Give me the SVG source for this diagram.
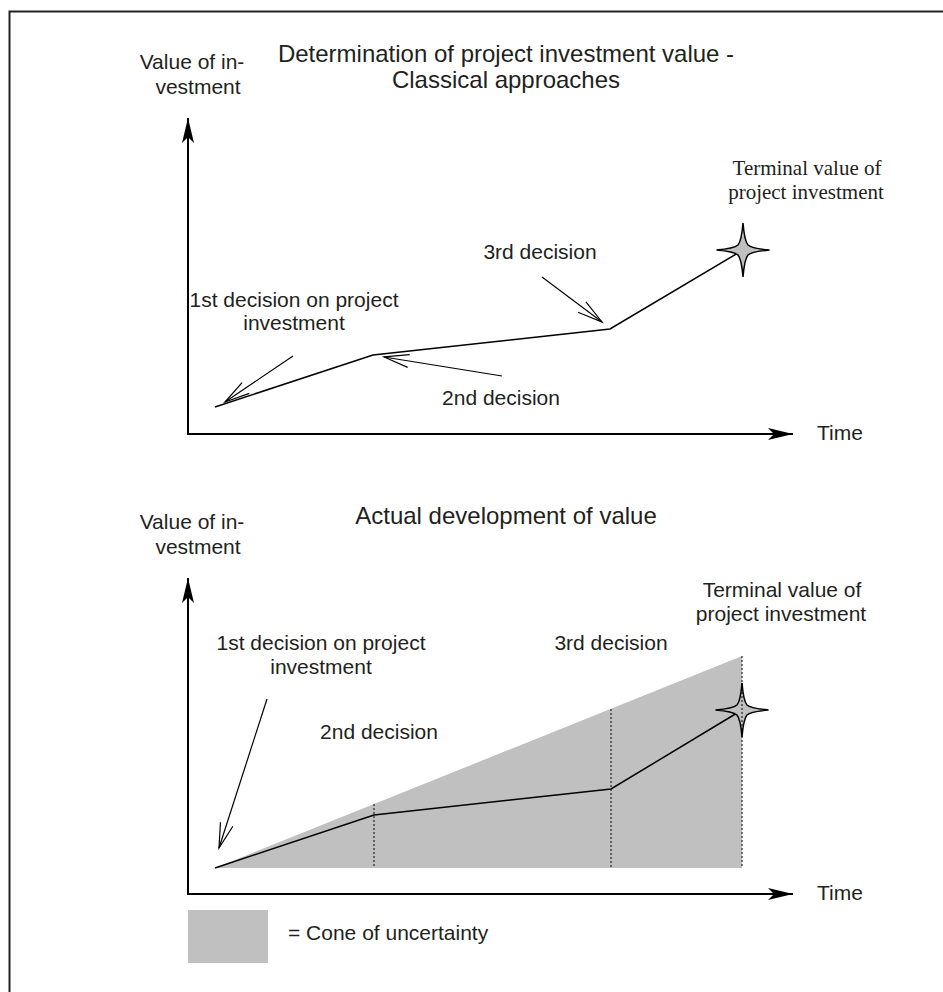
<svg xmlns="http://www.w3.org/2000/svg" width="943" height="992" viewBox="0 0 943 992">
  <style>
    .lbl { font-family: "Liberation Sans", Arial, sans-serif; font-size: 21px; fill: #231f20; }
    .ttl { font-family: "Liberation Sans", Arial, sans-serif; font-size: 24px; fill: #231f20; text-anchor: middle; }
    .ser { font-family: "Liberation Serif", "Times New Roman", serif; font-size: 21px; fill: #231f20; text-anchor: middle; }
    .mid { text-anchor: middle; }
    .axis { stroke: #000; stroke-width: 2; fill: none; marker-end: url(#axhead); }
    .val { stroke: #000; stroke-width: 1.5; fill: none; stroke-linejoin: miter; }
    .ptr { stroke: #000; stroke-width: 1.2; fill: none; marker-end: url(#openhead); }
    .dot { stroke: #000; stroke-width: 1; stroke-dasharray: 2 2; fill: none; }
    .star { fill: #c0c0c0; stroke: #000; stroke-width: 1.5; }
    .cone { fill: #c0c0c0; stroke: none; }
  </style>
  <defs>
    <marker id="axhead" markerUnits="userSpaceOnUse" viewBox="-26 -7 28 14" refX="0" refY="0" markerWidth="28" markerHeight="14" orient="auto" overflow="visible">
      <path d="M0,0 L-25,-6 L-19,0 L-25,6 Z" fill="#000"/>
    </marker>
    <marker id="openhead" markerUnits="userSpaceOnUse" viewBox="-27 -8 30 16" refX="0" refY="0" markerWidth="30" markerHeight="16" orient="auto" overflow="visible">
      <path d="M-25,-6.5 L0,0 L-25,6.5" fill="none" stroke="#000" stroke-width="1.2"/>
    </marker>
    <path id="starShape" d="M0,-27 Q1.5,-9 5,-5 Q9,-1.5 26.5,0 Q9,1.5 5,5 Q1.5,9 0,27 Q-1.5,9 -5,5 Q-9,1.5 -26.5,0 Q-9,-1.5 -5,-5 Q-1.5,-9 0,-27 Z"/>
  </defs>

  <rect width="943" height="992" fill="#fff"/>
  <rect id="frame" x="9.5" y="11.5" width="960" height="1000" fill="none" stroke="#222" stroke-width="2"/>

  <!-- Top chart -->
  <g id="top-title">
    <text class="ttl" x="506" y="62">Determination of project investment value -</text>
    <text class="ttl" x="506" y="88">Classical approaches</text>
  </g>
  <g id="top-yaxis-label">
    <text class="lbl mid" x="192" y="69">Value of in-</text>
    <text class="lbl mid" x="198" y="94">vestment</text>
  </g>
  <g id="top-axes">
    <line class="axis" x1="188" y1="434" x2="188" y2="118"/>
    <line class="axis" x1="187" y1="434" x2="793" y2="434"/>
  </g>
  <g id="top-time"><text class="lbl" x="817" y="440">Time</text></g>
  <g id="top-value-line">
    <polyline class="val" points="215,407 373,355 610,329 743,250"/>
  </g>
  <g id="top-terminal">
    <use href="#starShape" class="star" transform="translate(743,250)"/>
    <text class="ser" x="807" y="175">Terminal value of</text>
    <text class="ser" x="806" y="199">project investment</text>
  </g>
  <g id="top-d1">
    <text class="lbl mid" x="294" y="307">1st decision on project</text>
    <text class="lbl mid" x="294" y="330">investment</text>
  </g>
  <g id="top-d2"><text class="lbl mid" x="501" y="405">2nd decision</text></g>
  <g id="top-d3"><text class="lbl mid" x="540" y="259">3rd decision</text></g>
  <g id="top-connectors">
    <line class="ptr" x1="293" y1="356" x2="225" y2="402"/>
    <line class="ptr" x1="502" y1="376" x2="384" y2="357"/>
    <line class="ptr" x1="542" y1="277" x2="602" y2="322"/>
  </g>

  <!-- Bottom chart -->
  <g id="bottom-title"><text class="ttl" x="506" y="524">Actual development of value</text></g>
  <g id="bottom-yaxis-label">
    <text class="lbl mid" x="192" y="529">Value of in-</text>
    <text class="lbl mid" x="198" y="554">vestment</text>
  </g>
  <g id="cone">
    <polygon class="cone" points="215,868 742,656 742,868"/>
  </g>
  <g id="bottom-axes">
    <line class="axis" x1="188" y1="894" x2="188" y2="578"/>
    <line class="axis" x1="187" y1="894" x2="793" y2="894"/>
  </g>
  <g id="bottom-time"><text class="lbl" x="817" y="900">Time</text></g>
  <g id="bottom-value-line">
    <polyline class="val" points="215,868 374,815 611,789 742,710"/>
  </g>
  <g id="bottom-terminal">
    <use href="#starShape" class="star" transform="translate(742,710)"/>
    <text class="lbl mid" x="782" y="597">Terminal value of</text>
    <text class="lbl mid" x="781" y="621">project investment</text>
  </g>
  <g id="dotted">
    <line class="dot" x1="374" y1="804" x2="374" y2="868"/>
    <line class="dot" x1="611" y1="709" x2="611" y2="868"/>
    <line class="dot" x1="742" y1="656" x2="742" y2="868"/>
  </g>
  <g id="bottom-d1">
    <text class="lbl mid" x="321" y="650">1st decision on project</text>
    <text class="lbl mid" x="321" y="674">investment</text>
  </g>
  <g id="bottom-d2"><text class="lbl mid" x="379" y="739">2nd decision</text></g>
  <g id="bottom-d3"><text class="lbl mid" x="611" y="650">3rd decision</text></g>
  <g id="bottom-connectors">
    <line class="ptr" x1="267" y1="699" x2="219" y2="848"/>
  </g>

  <!-- Legend -->
  <g id="legend">
    <rect x="188" y="910" width="80" height="53" fill="#c0c0c0"/>
    <text class="lbl" x="288" y="940">= Cone of uncertainty</text>
  </g>
</svg>
